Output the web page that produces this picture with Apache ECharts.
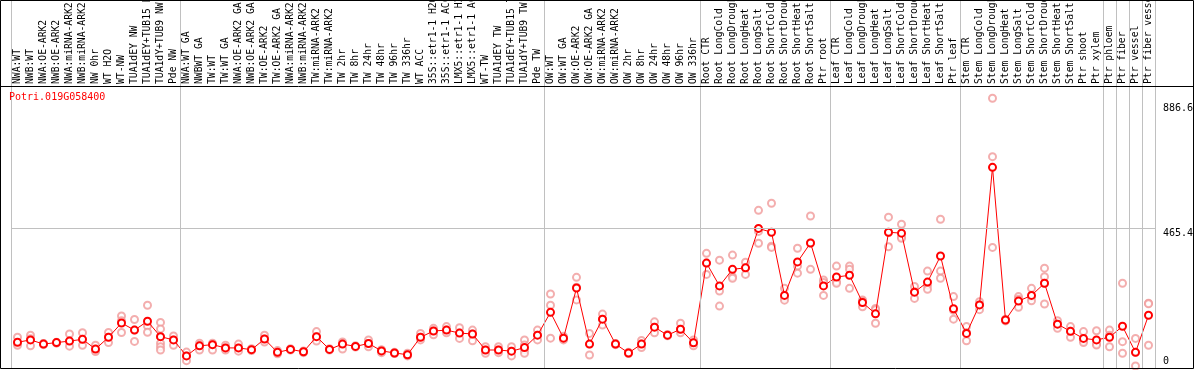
<!DOCTYPE html>
<html>
<head>
<meta charset="utf-8">
<script src="https://cdn.jsdelivr.net/npm/echarts@6/dist/echarts.min.js"></script>
<style>
html,body{margin:0;padding:0;background:#fff;}
#chart{width:1194px;height:370px;}
</style>
</head>
<body>
<div id="chart"></div>
<script>
const geneId = 'Potri.019G058400';

const categories = [
  'NWA:WT','NWB:WT','NWA:OE-ARK2','NWB:OE-ARK2','NWA:miRNA-ARK2','NWB:miRNA-ARK2','NW 0hr','WT H2O','WT-NW',
  'TUA1dEY NW','TUA1dEY+TUB15 NW','TUA1dY+TUB9 NW','Pde NW',
  'NWA:WT GA','NWBWT GA','TW:WT','TW:WT GA','NWA:OE-ARK2 GA','NWB:OE-ARK2 GA','TW:OE-ARK2','TW:OE-ARK2 GA',
  'NWA:miRNA-ARK2','NWB:miRNA-ARK2','TW:miRNA-ARK2','TW:miRNA-ARK2','TW 2hr','TW 8hr','TW 24hr','TW 48hr','TW 96hr','TW 336hr',
  'WT ACC','35S::etr1-1 H2O','35S::etr1-1 ACC','LMX5::etr1-1 H2O','LMX5::etr1-1 ACC','WT-TW','TUA1dEY TW','TUA1dEY+TUB15 TW','TUA1dY+TUB9 TW','Pde TW',
  'OW:WT','OW:WT GA','OW:OE-ARK2','OW:OE-ARK2 GA','OW:miRNA-ARK2','OW:miRNA-ARK2','OW 2hr','OW 8hr','OW 24hr','OW 48hr','OW 96hr','OW 336hr',
  'Root CTR','Root LongCold','Root LongDrought','Root LongHeat','Root LongSalt','Root ShortCold','Root ShortDrought','Root ShortHeat','Root ShortSalt','Ptr root',
  'Leaf CTR','Leaf LongCold','Leaf LongDrought','Leaf LongHeat','Leaf LongSalt','Leaf ShortCold','Leaf ShortDrought','Leaf ShortHeat','Leaf ShortSalt','Ptr leaf',
  'Stem CTR','Stem LongCold','Stem LongDrought','Stem LongHeat','Stem LongSalt','Stem ShortCold','Stem ShortDrought','Stem ShortHeat','Stem ShortSalt','Ptr shoot','Ptr xylem',
  'Ptr phloem','Ptr fiber','Ptr vessel','Ptr fiber vessel'
];

const means = [
  80,88,74,79,84,90,57,97,145,121,151,99,88,
  34,68,72,61,61,55,91,46,56,48,99,56,74,66,76,51,44,38,97,118,121,111,108,54,54,50,62,104,
  181,94,263,74,158,74,44,74,131,104,124,78,
  347,270,326,331,464,451,238,351,415,270,
  300,306,214,176,451,448,249,283,371,193,
  110,206,670,155,219,238,279,141,117,93,88,
  97,134,46,171
];

const replicates = [
  [97,76,70],[104,92,68],[75,72,76],[78,80,77],[108,84,67],[112,90,70],[70,52,49],[113,97,79],[169,153,113],
  [157,121,83],[205,135,114],[147,125,99,77,65,54],[101,88,70],
  [47,34,18],[77,68,54],[77,72,54],[70,61,54],[74,60,50],[55,58,52],[104,91,81],[52,46,41],
  [56,58,54],[48,45,51],[116,99,84],[56,58,54],[81,74,57],[66,68,64],[88,76,65],[54,45,54],[44,46,42],[43,38,34],
  [110,97,88],[127,118,105],[133,121,112],[129,111,93],[121,108,85],[65,54,43],[65,54,45],[65,50,34],[88,71,54,43],[121,104,88],
  [243,205,94],[94,88,100],[299,266,223],[110,74,37],[175,158,138],[74,76,72],[44,46,42],[86,74,62],[149,131,112],[104,106,102],[144,124,112],[88,78,68],
  [380,347,309],[357,253,202],[374,301,296],[350,331,309],[525,454,414],[549,404,400],[262,231,222],[397,337,313],[506,415,326],[290,282,238],
  [337,284,279],[337,326,262],[223,218,200],[194,190,144],[502,450,402],[478,435,431],[268,250,228],[320,272,259],[495,320,296],[234,188,158],
  [133,113,85],[217,206,190],[903,706,400],[155,152,158],[234,225,198],[262,233,220],[330,301,279,209],[153,141,127],[133,117,97],[116,85,79],[119,74,71],
  [121,104,65],[279,82,43],[93,46,0],[212,210,70]
];

// group boundaries (in category units) where grey vertical lines are drawn
const groupBoundaries = [0,13,41,53,63,73,84,85,86,87,88];
const yTickTop = [886.6, 465.4];
const yTickBottom = [0];
const gridLineValue = 465.4;
const yMax = 944.3;

const replicatePoints = [];
replicates.forEach((arr, i) => arr.forEach(v => replicatePoints.push([i, v])));

const mono = 'DejaVu Sans Mono';
const chart = echarts.init(document.getElementById('chart'), null, {renderer: 'canvas'});

chart.setOption({
  animation: false,
  backgroundColor: '#fff',
  title: {
    text: geneId, left: 4, top: 87,
    textStyle: {color: '#ff0000', fontSize: 10, fontFamily: mono, fontWeight: 'normal'}
  },
  grid: [
    {left: 11, right: 39, top: 0, bottom: 2, outerBoundsMode: 'none', containLabel: false},
    {left: 11, right: 39, top: 86, bottom: 4, outerBoundsMode: 'none', containLabel: false}
  ],
  xAxis: [
    {type: 'value', gridIndex: 0, min: 0, max: 88, show: false},
    {type: 'category', gridIndex: 1, position: 'top', data: categories, boundaryGap: true,
     axisLine: {show: false}, axisTick: {show: false}, splitLine: {show: false},
     axisLabel: {interval: 0, rotate: 90, margin: 2, fontFamily: mono, fontSize: 9.7, color: '#000', hideOverlap: false}}
  ],
  yAxis: [
    {type: 'value', gridIndex: 0, min: 0, max: 1, show: false},
    {type: 'value', gridIndex: 1, min: 0, max: yMax, position: 'right',
     axisLine: {show: false}, axisTick: {show: false}, splitLine: {show: false},
     axisLabel: {customValues: yTickTop, margin: 8, verticalAlign: 'top', fontFamily: mono, fontSize: 10, color: '#000', showMinLabel: true, showMaxLabel: true}},
    {type: 'value', gridIndex: 1, min: 0, max: yMax, position: 'right',
     axisLine: {show: false}, axisTick: {show: false}, splitLine: {show: false},
     axisLabel: {customValues: yTickBottom, margin: 8, verticalAlign: 'bottom', fontFamily: mono, fontSize: 10, color: '#000', showMinLabel: true}}
  ],
  graphic: [
    {type: 'rect', shape: {x: 0.5, y: 0.5, width: 1193, height: 368}, style: {fill: null, stroke: '#000', lineWidth: 1}, z: 100, silent: true},
    {type: 'line', shape: {x1: 0, y1: 86.5, x2: 1194, y2: 86.5}, style: {stroke: '#000', lineWidth: 1}, z: 100, silent: true}
  ],
  series: [
    {
      type: 'line', xAxisIndex: 0, yAxisIndex: 0, data: [], silent: true,
      markLine: {
        silent: true, symbol: 'none', label: {show: false},
        lineStyle: {color: '#c0c0c0', type: 'solid', width: 1},
        data: groupBoundaries.map(b => ({xAxis: b}))
      },
      z: 1
    },
    {
      type: 'scatter', xAxisIndex: 1, yAxisIndex: 1, data: replicatePoints,
      symbol: 'emptyCircle', symbolSize: 7,
      itemStyle: {color: '#f09a9a', borderColor: '#f09a9a', borderWidth: 1.2},
      z: 3, silent: true
    },
    {
      type: 'line', xAxisIndex: 1, yAxisIndex: 1, data: means,
      symbol: 'emptyCircle', symbolSize: 7,
      lineStyle: {color: '#ff0000', width: 1},
      itemStyle: {color: '#ff0000', borderColor: '#e00000', borderWidth: 1.6},
      markLine: {
        silent: true, symbol: 'none', label: {show: false},
        lineStyle: {color: '#c0c0c0', type: 'solid', width: 1},
        data: [{yAxis: gridLineValue}]
      },
      z: 4, silent: true
    }
  ]
});
</script>
</body>
</html>
